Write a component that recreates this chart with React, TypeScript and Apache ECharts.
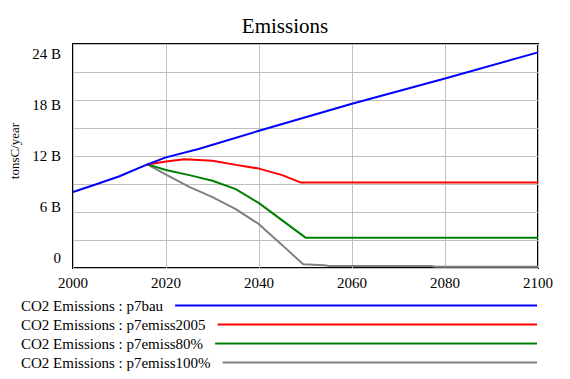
import React, { useEffect, useRef } from 'react';
import * as echarts from 'echarts';

const titleText = 'Emissions';
const yAxisName = 'tonsC/year';
const yLabelValues = [0, 6, 12, 18, 24];

const seriesNames = [
  'CO2 Emissions : p7bau',
  'CO2 Emissions : p7emiss2005',
  'CO2 Emissions : p7emiss80%',
  'CO2 Emissions : p7emiss100%',
];
const seriesColors = ['#0000FF', '#FF0000', '#008000', '#808080'];

const bauYears = [2000, 2005, 2010, 2016, 2020, 2027, 2040, 2060, 2080, 2100];
const bauValues = [8.15, 8.97, 9.83, 11.1, 11.85, 12.75, 14.7, 17.6, 20.3, 23.1];

const e2005Years = [2016, 2020, 2024, 2030, 2035, 2040, 2045, 2049, 2100];
const e2005Values = [11.1, 11.4, 11.65, 11.5, 11.05, 10.65, 9.95, 9.15, 9.15];

const e80Years = [2016, 2020, 2025, 2030, 2035, 2040, 2045, 2050, 2100];
const e80Values = [11.1, 10.5, 9.95, 9.35, 8.45, 6.95, 5.1, 3.25, 3.25];

const e100Years = [2016, 2020, 2025, 2030, 2035, 2040, 2045, 2049.5, 2054, 2055, 2077, 2078, 2100];
const e100Values = [11.1, 10.0, 8.7, 7.6, 6.3, 4.7, 2.45, 0.4, 0.3, 0.22, 0.22, 0.13, 0.13];

const seriesYears = [bauYears, e2005Years, e80Years, e100Years];
const seriesValues = [bauValues, e2005Values, e80Values, e100Values];

const FONT = 'Times New Roman, Liberation Serif, DejaVu Serif, serif';

export default function App() {
  const ref = useRef<HTMLDivElement>(null);
  useEffect(() => {
    document.body.style.margin = '0';
    if (!ref.current) return;
    const chart = echarts.init(ref.current, null, { renderer: 'svg' });

    const canvas = document.createElement('canvas');
    const ctx = canvas.getContext('2d')!;
    ctx.font = '15px ' + FONT;
    const legendTops = [298, 317, 336, 355];
    const legendLeft = 21;
    const lineEnd = 537;
    const legends = seriesNames.map((name, i) => {
      const w = ctx.measureText(name).width;
      return {
        show: true,
        data: [{ name, icon: 'rect' }],
        left: legendLeft,
        top: legendTops[i],
        orient: 'horizontal',
        align: 'right',
        padding: 0,
        itemGap: 0,
        itemWidth: Math.max(10, lineEnd - legendLeft - w - 12),
        itemHeight: 2,
        selectedMode: false,
        textStyle: { fontFamily: FONT, fontSize: 15, color: '#000', padding: [0, 7, 0, 0] },
      };
    });

    chart.setOption({
      animation: false,
      textStyle: { fontFamily: FONT },
      title: {
        text: titleText,
        left: 'center',
        top: 10,
        textStyle: { fontFamily: FONT, fontSize: 21, fontWeight: 'normal', color: '#000' },
      },
      legend: legends,
      grid: {
        left: 70,
        right: 32,
        top: 44,
        bottom: 111,
        show: true,
        borderColor: '#000',
        borderWidth: 2,
        backgroundColor: 'transparent',
      },
      xAxis: {
        type: 'value',
        min: 2000,
        max: 2100,
        interval: 20,
        axisLine: { show: false },
        axisTick: { show: false },
        splitLine: { show: true, lineStyle: { color: '#C0C0C0', width: 1 } },
        axisLabel: {
          color: '#000',
          fontFamily: FONT,
          fontSize: 15,
          margin: 7,
          formatter: (v: number) => String(v),
        },
      },
      yAxis: [
        {
          type: 'value',
          min: 0,
          max: 24,
          interval: 3,
          position: 'left',
          axisLine: { show: false },
          axisTick: { show: false },
          axisLabel: { show: false },
          splitLine: { show: true, lineStyle: { color: '#C0C0C0', width: 1 } },
        },
        {
          type: 'value',
          min: -1.176,
          max: 25.176,
          position: 'left',
          axisLine: { show: false },
          axisTick: { show: false },
          splitLine: { show: false },
          axisLabel: {
            customValues: yLabelValues,
            color: '#000',
            fontFamily: FONT,
            fontSize: 15,
            margin: 12,
            formatter: (v: number) => (v === 0 ? '0' : `${v} B`),
          },
          name: yAxisName,
          nameLocation: 'middle',
          nameRotate: 90,
          nameGap: 52,
          nameTextStyle: { fontFamily: FONT, fontSize: 13, color: '#000', padding: [0, 0, 0, 10] },
        },
      ],
      series: seriesNames.map((name, i) => ({
        name,
        type: 'line',
        xAxisIndex: 0,
        yAxisIndex: 0,
        symbol: 'none',
        showSymbol: false,
        lineStyle: { color: seriesColors[i], width: 2 },
        itemStyle: { color: seriesColors[i] },
        data: seriesYears[i].map((yr, j) => [yr, seriesValues[i][j]]),
        z: 10 - i,
      })),
    });
    return () => chart.dispose();
  }, []);
  return <div ref={ref} style={{ width: 570, height: 379 }} />;
}
